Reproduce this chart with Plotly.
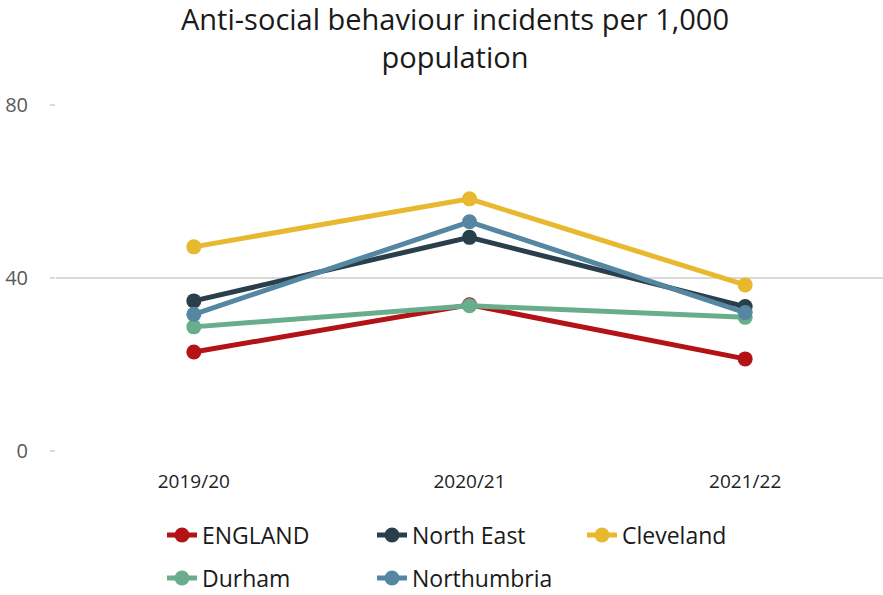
import plotly.graph_objects as go

years = ["2019/20", "2020/21", "2021/22"]

england = [22.9, 33.8, 21.3]
north_east = [34.7, 49.4, 33.4]
cleveland = [47.2, 58.3, 38.4]
durham = [28.7, 33.6, 30.9]
northumbria = [31.6, 53.0, 32.0]

# (name, values, colour, legend row)
series = [
    ("ENGLAND", england, "#B31217", "legend"),
    ("North East", north_east, "#2A3F4C", "legend"),
    ("Cleveland", cleveland, "#E8B82E", "legend"),
    ("Durham", durham, "#69AE8C", "legend2"),
    ("Northumbria", northumbria, "#5587A2", "legend2"),
]

y_ticks = [0, 40, 80]

FONT = "Open Sans, sans-serif"
W, H = 883, 595

fig = go.Figure()
for name, values, color, leg in series:
    fig.add_trace(go.Scatter(
        x=years, y=values, name=name, mode="lines+markers",
        line=dict(color=color, width=5),
        marker=dict(color=color, size=15),
        legend=leg,
    ))

legend_common = dict(
    orientation="h", xref="container", x=162 / W, xanchor="left",
    yref="container", yanchor="middle",
    entrywidth=165, entrywidthmode="pixels",
    font=dict(size=23, color="#1a1a1a", family=FONT),
    bgcolor="rgba(0,0,0,0)",
)

fig.update_layout(
    width=W, height=H,
    margin=dict(l=56, r=0, t=105, b=144, autoexpand=False),
    paper_bgcolor="white", plot_bgcolor="white",
    font=dict(family=FONT, color="#222222"),
    legend=dict(legend_common, y=1 - 535 / H),
    legend2=dict(legend_common, y=1 - 578 / H),
    showlegend=True,
    annotations=[dict(
        text="Anti-social behaviour incidents per 1,000<br>population",
        xref="paper", yref="paper", x=0.4825, y=(451 - 37) / 346,
        xanchor="center", yanchor="middle", showarrow=False,
        font=dict(size=29, color="#1a1a1a", family=FONT),
    )],
)

fig.update_xaxes(
    type="category", range=[-0.5, 2.5],
    showgrid=False, showline=False, zeroline=False,
    ticks="", ticklabelstandoff=17,
    tickfont=dict(size=19, color="#222222", family=FONT),
)
fig.update_yaxes(
    range=[0, 80], tickvals=y_ticks,
    showgrid=True, gridcolor="#D9D9D9", gridwidth=1.5,
    zeroline=False, showline=False,
    ticks="outside", ticklen=5, tickcolor="#D9D9D9", tickwidth=1.5,
    ticklabelstandoff=18,
    tickfont=dict(size=20, color="#595959", family=FONT),
)

fig.write_html("out.html")
